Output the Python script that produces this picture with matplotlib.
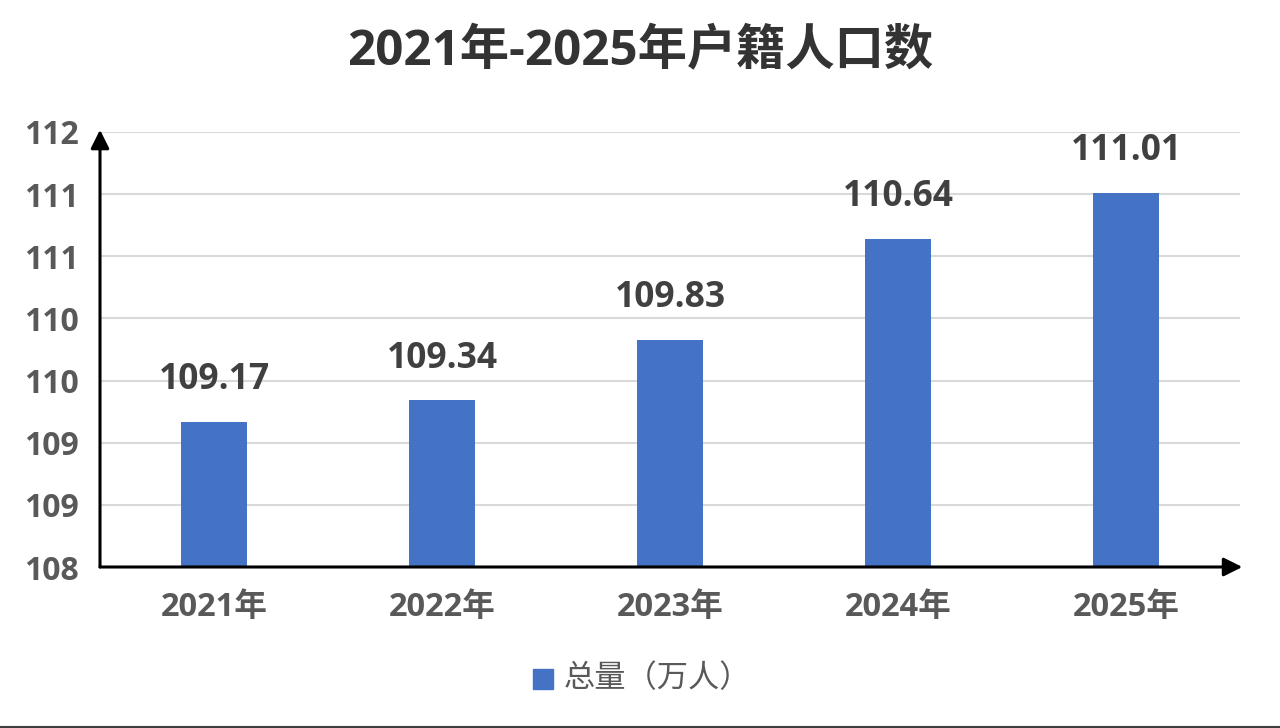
import math

import matplotlib
matplotlib.use("Agg")
import matplotlib.pyplot as plt
from matplotlib.lines import Line2D
from matplotlib.ticker import FixedLocator, FuncFormatter

# data
years = ["2021年", "2022年", "2023年", "2024年", "2025年"]
totals = [109.17, 109.34, 109.83, 110.64, 111.01]
series_name = "总量（万人）"
title = "2021年-2025年户籍人口数"

bar_color = "#4472C4"
text_gray = "#595959"
fonts = ["Open Sans", "Noto Sans CJK SC", "DejaVu Sans"]
plt.rcParams["font.family"] = fonts

fig = plt.figure(figsize=(12.8, 7.28), dpi=100)
ax = fig.add_axes([100 / 1280, 1 - 567 / 728, 1140 / 1280, 435 / 728])

x = list(range(len(years)))
ax.bar(x, totals, width=0.29, color=bar_color, zorder=3)

ax.set_xlim(-0.5, len(years) - 0.5)
ax.set_ylim(108, 111.5)
yticks = [108 + 0.5 * i for i in range(8)]
ax.yaxis.set_major_locator(FixedLocator(yticks))
# excel style: labels rounded half up to whole numbers
ax.yaxis.set_major_formatter(FuncFormatter(lambda v, p: str(int(math.floor(v + 0.5)))))
ax.set_xticks(x)
ax.set_xticklabels(years)

for s in ax.spines.values():
    s.set_visible(False)
ax.grid(axis="y", color="#D9D9D9", lw=1.5, zorder=0)
ax.tick_params(axis="both", length=0, labelcolor=text_gray)
ax.tick_params(axis="y", pad=15, labelsize=23)
ax.tick_params(axis="x", pad=17, labelsize=23.5)
for lab in ax.get_xticklabels() + ax.get_yticklabels():
    lab.set_fontweight("bold")

# axis arrows
arrow = dict(arrowstyle="-|>", color="black", lw=2.2, mutation_scale=28, shrinkA=0, shrinkB=0)
ax.annotate("", xy=(0, 1.005), xytext=(0, 0), xycoords="axes fraction", arrowprops=arrow, zorder=5)
ax.annotate("", xy=(1.002, 0), xytext=(0, 0), xycoords="axes fraction", arrowprops=arrow, zorder=5)

for xi, v in zip(x, totals):
    ax.annotate(f"{v:.2f}", xy=(xi, v), xytext=(0, 30), textcoords="offset points",
                ha="center", va="center", fontsize=25.5, fontweight="bold", color="#404040")

fig.text(0.5, 1 - 53 / 728, title, ha="center", va="center", fontsize=35.5,
         fontweight="bold", color="#333333")

# legend
fig.patches.append(plt.Rectangle((533 / 1280, 1 - 689 / 728), 20 / 1280, 20 / 728,
                                 transform=fig.transFigure, color=bar_color, figure=fig))
fig.text(564 / 1280, 1 - 679 / 728, series_name, ha="left", va="center",
         fontsize=22.5, color=text_gray)

fig.add_artist(Line2D([0, 1], [0.8 / 728, 0.8 / 728], color="#404040", lw=1.5))

fig.savefig("out.png", dpi=100)
